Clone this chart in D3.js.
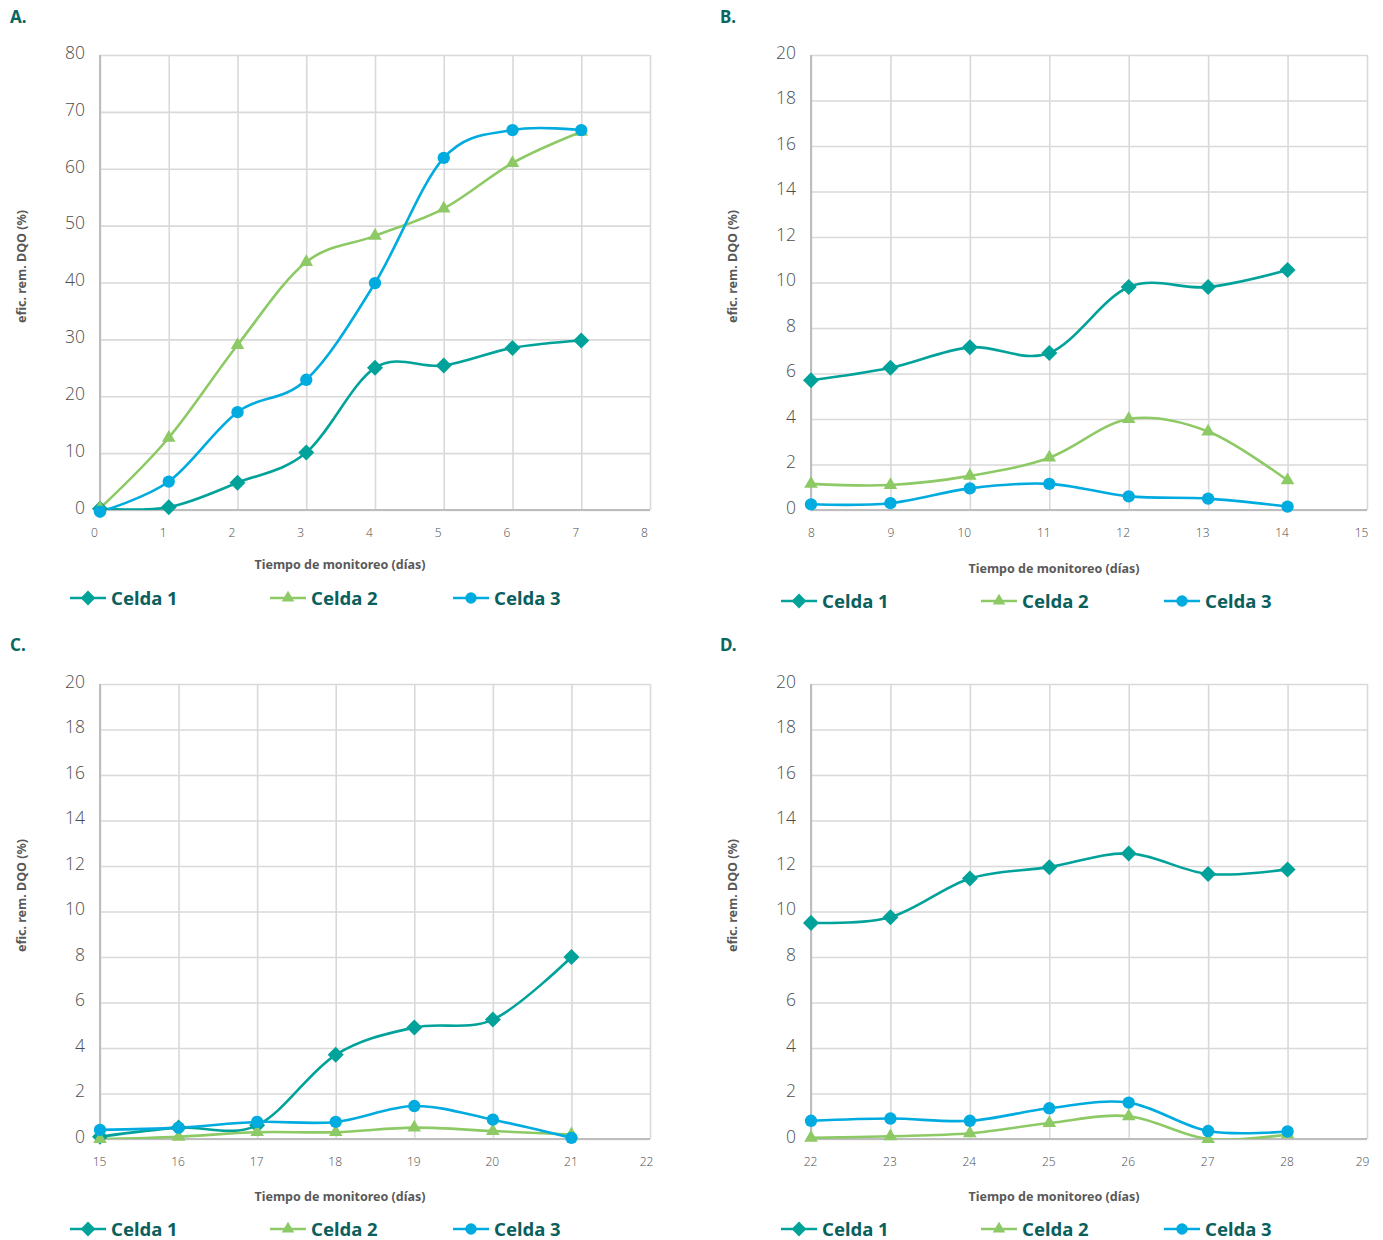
<!DOCTYPE html>
<html lang="es">
<head>
<meta charset="UTF-8">
<title>Eficiencia de remoción DQO</title>
<script src="https://d3js.org/d3.v7.min.js"></script>
<style>
    body { margin: 0; background: #fff; }
    svg { display: block; }
    .tick-y { font-family: "Open Sans", "Noto Sans", sans-serif; font-weight: 300; font-size: 17.5px; fill: #4d4d4d; }
    .tick-x { font-family: "Open Sans", "Noto Sans", sans-serif; font-weight: 300; font-size: 12px; fill: #4d4d4d; }
    .axis-title { font-family: "Noto Sans", "Open Sans", sans-serif; font-weight: 700; font-size: 12.5px; fill: #595959; }
    .panel-label { font-family: "Noto Sans", sans-serif; font-weight: 700; font-size: 17px; fill: #0b6662; }
    .legend-text { font-family: "Noto Sans", sans-serif; font-weight: 700; font-size: 18.5px; fill: #0a605c; }
</style>
</head>
<body>
<svg id="chart" width="1383" height="1240"></svg>
<script>
// ---- data ----
const seriesNames = ["Celda 1", "Celda 2", "Celda 3"];
const panelLabels = ["A.", "B.", "C.", "D."];
const yTitle = "efic. rem. DQO (%)";
const xTitle = "Tiempo de monitoreo (días)";

const daysA = [0, 1, 2, 3, 4, 5, 6, 7];
const celda1A = [0.2, 0.5, 4.8, 10.1, 25.0, 25.4, 28.5, 29.8];
const celda2A = [0.3, 12.7, 29.0, 43.6, 48.2, 53.0, 61.0, 66.5];
const celda3A = [-0.3, 5.0, 17.2, 22.9, 39.9, 61.9, 66.8, 66.8];

const daysB = [8, 9, 10, 11, 12, 13, 14];
const celda1B = [5.7, 6.25, 7.15, 6.9, 9.8, 9.8, 10.55];
const celda2B = [1.15, 1.1, 1.5, 2.3, 4.0, 3.45, 1.3];
const celda3B = [0.25, 0.3, 0.95, 1.15, 0.6, 0.5, 0.15];

const daysC = [15, 16, 17, 18, 19, 20, 21];
const celda1C = [0.1, 0.5, 0.6, 3.7, 4.9, 5.25, 8.0];
const celda2C = [0.0, 0.1, 0.3, 0.3, 0.5, 0.35, 0.2];
const celda3C = [0.4, 0.5, 0.75, 0.75, 1.45, 0.85, 0.05];

const daysD = [22, 23, 24, 25, 26, 27, 28];
const celda1D = [9.5, 9.75, 11.45, 11.95, 12.55, 11.65, 11.85];
const celda2D = [0.05, 0.12, 0.25, 0.7, 1.0, 0.0, 0.2];
const celda3D = [0.8, 0.9, 0.8, 1.35, 1.6, 0.35, 0.33];

const xDomainA = [0, 8], xDomainB = [8, 15], xDomainC = [15, 22], xDomainD = [22, 29];
const yTicksA = d3.range(0, 81, 10);
const yTicksBCD = d3.range(0, 21, 2);

// ---- styling ----
const colors = ["#00a29a", "#8dc965", "#00abdf"];
const symbols = [d3.symbolSquare, d3.symbolTriangle, d3.symbolCircle];
const symbolSize = [128, 80, 120];
const symbolRotate = [45, 0, 0];

const panels = [
    {label: panelLabels[0], days: daysA, values: [celda1A, celda2A, celda3A], xDomain: xDomainA, yTicks: yTicksA,
     left: 100, right: 650, top: 55, bottom: 510, labelX: 10, labelY: 23, legendDy: 88, xTitleDy: 55, tickShift: d => -6},
    {label: panelLabels[1], days: daysB, values: [celda1B, celda2B, celda3B], xDomain: xDomainB, yTicks: yTicksBCD,
     left: 811, right: 1367, top: 55, bottom: 510, labelX: 720, labelY: 23, legendDy: 91, xTitleDy: 59, tickShift: d => d >= 10 ? -6 : 0},
    {label: panelLabels[2], days: daysC, values: [celda1C, celda2C, celda3C], xDomain: xDomainC, yTicks: yTicksBCD,
     left: 100, right: 650, top: 684, bottom: 1139, labelX: 10, labelY: 651, legendDy: 90, xTitleDy: 58, tickShift: d => d == 22 ? -4 : -1},
    {label: panelLabels[3], days: daysD, values: [celda1D, celda2D, celda3D], xDomain: xDomainD, yTicks: yTicksBCD,
     left: 811, right: 1367, top: 684, bottom: 1139, labelX: 720, labelY: 651, legendDy: 90, xTitleDy: 58, tickShift: d => d == 29 ? -5 : -1}
];

const svg = d3.select("#chart");
const defs = svg.append("defs");

panels.forEach(function (p, pi) {
    const x = d3.scaleLinear().domain(p.xDomain).range([p.left, p.right]);
    const y = d3.scaleLinear().domain([0, d3.max(p.yTicks)]).range([p.bottom, p.top]);
    const g = svg.append("g");

    defs.append("clipPath").attr("id", "clip" + pi)
        .append("rect")
        .attr("x", p.left).attr("y", p.top - 2)
        .attr("width", p.right - p.left).attr("height", p.bottom - p.top + 2);

    // panel letter
    g.append("text").attr("class", "panel-label")
        .attr("x", p.labelX).attr("y", p.labelY).text(p.label);

    // horizontal grid + y labels
    const yAxis = d3.axisLeft(y).tickValues(p.yTicks).tickFormat(d3.format("d"))
        .tickSize(-(p.right - p.left)).tickPadding(15);
    const gy = g.append("g").attr("transform", `translate(${p.left},0)`).call(yAxis);
    gy.select(".domain").remove();
    gy.selectAll("line").attr("stroke", "#d9d9d9").attr("stroke-width", 1.6);
    gy.selectAll("text").attr("class", "tick-y").attr("dy", "0.3em").attr("y", -2);

    // vertical grid + x labels
    const xTicks = d3.range(p.xDomain[0], p.xDomain[1] + 1);
    const xAxis = d3.axisBottom(x).tickValues(xTicks).tickFormat(d3.format("d"))
        .tickSize(-(p.bottom - p.top)).tickPadding(18);
    const gx = g.append("g").attr("transform", `translate(0,${p.bottom})`).call(xAxis);
    gx.select(".domain").remove();
    gx.selectAll("line").attr("stroke", "#d9d9d9").attr("stroke-width", 1.6);
    gx.selectAll("text").attr("class", "tick-x").attr("dx", d => p.tickShift(d));

    // axis lines
    g.append("line").attr("x1", p.left).attr("x2", p.left).attr("y1", p.top).attr("y2", p.bottom)
        .attr("stroke", "#bdbdbd").attr("stroke-width", 2);
    g.append("line").attr("x1", p.left).attr("x2", p.right).attr("y1", p.bottom).attr("y2", p.bottom)
        .attr("stroke", "#bdbdbd").attr("stroke-width", 2);

    // axis titles
    g.append("text").attr("class", "axis-title")
        .attr("transform", `translate(${p.left - 74},${(p.top + p.bottom) / 2 - 16}) rotate(-90)`)
        .attr("text-anchor", "middle").text(yTitle);
    g.append("text").attr("class", "axis-title")
        .attr("x", (p.left + p.right) / 2 - 35).attr("y", p.bottom + p.xTitleDy + 4)
        .attr("text-anchor", "middle").text(xTitle);

    // series lines
    const line = d3.line().x(d => x(d[0])).y(d => y(d[1])).curve(d3.curveCardinal.tension(0));
    p.values.forEach(function (vals, si) {
        const pts = p.days.map((d, i) => [d, vals[i]]);
        g.append("path").datum(pts)
            .attr("clip-path", `url(#clip${pi})`)
            .attr("fill", "none").attr("stroke", colors[si]).attr("stroke-width", 2.6)
            .attr("d", line);
    });
    // markers (drawn after all lines)
    p.values.forEach(function (vals, si) {
        const pts = p.days.map((d, i) => [d, vals[i]]);
        g.selectAll(".m" + si).data(pts).enter().append("path")
            .attr("d", d3.symbol().type(symbols[si]).size(symbolSize[si]))
            .attr("transform", d => `translate(${x(d[0])},${y(d[1])}) rotate(${symbolRotate[si]})`)
            .attr("fill", colors[si]);
    });

    // legend
    const ly = p.bottom + p.legendDy;
    const legendOffsets = [-30, 170, 353];
    seriesNames.forEach(function (name, si) {
        const lx = p.left + legendOffsets[si];
        g.append("line").attr("x1", lx).attr("x2", lx + 36).attr("y1", ly).attr("y2", ly)
            .attr("stroke", colors[si]).attr("stroke-width", 2.6);
        g.append("path")
            .attr("d", d3.symbol().type(symbols[si]).size(symbolSize[si] * 0.85))
            .attr("transform", `translate(${lx + 18},${ly}) rotate(${symbolRotate[si]})`)
            .attr("fill", colors[si]);
        g.append("text").attr("class", "legend-text")
            .attr("x", lx + 41).attr("y", ly + 6.5).text(name);
    });
});
</script>
</body>
</html>
